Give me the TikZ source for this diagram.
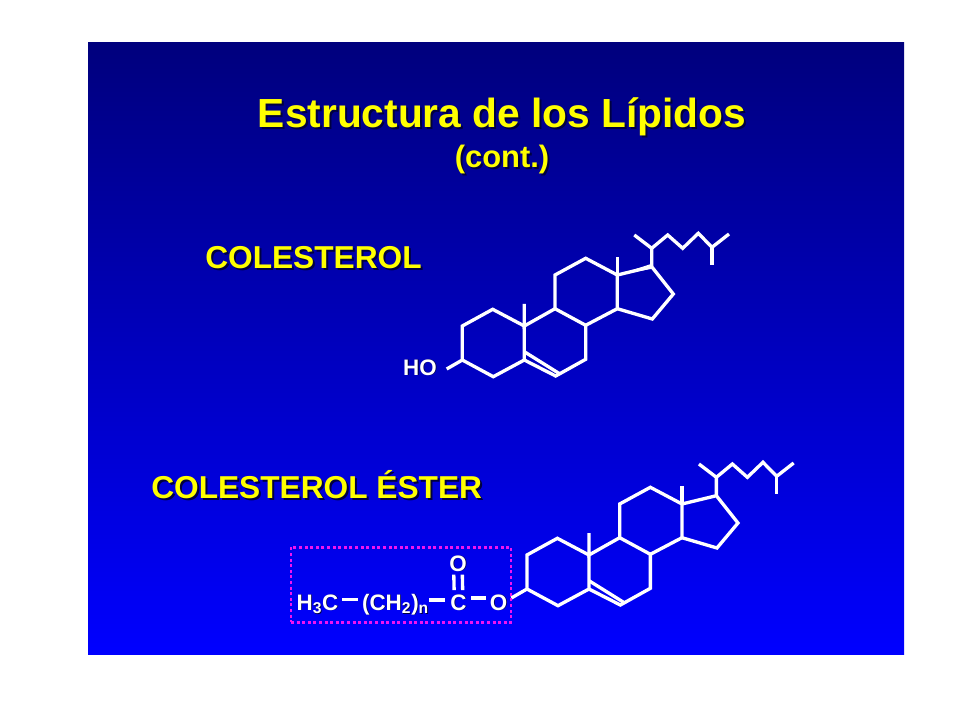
\documentclass[tikz,border=0pt]{standalone}
\usepackage{fontspec}
\setmainfont{Liberation Sans}
\definecolor{slidetop}{RGB}{0,0,125}
\definecolor{slidebottom}{RGB}{0,0,255}
\definecolor{titleyellow}{RGB}{255,255,0}
\definecolor{boxpink}{RGB}{240,20,240}
\newcommand{\shadowed}[2][1.5pt]{\leavevmode\rlap{\kern#1\raisebox{-#1}{\color{black!75!blue}#2}}#2}
\newcommand{\sterolbonds}{
	\coordinate (c1) at (492.7,309.3);
	\coordinate (c2) at (462.3,326);
	\coordinate (c3) at (462.3,360);
	\coordinate (c4) at (493.3,376.7);
	\coordinate (c5) at (524.3,360);
	\coordinate (c6) at (555.7,376);
	\coordinate (c7) at (585.7,359.3);
	\coordinate (c8) at (585.7,325.3);
	\coordinate (c9) at (555,308.7);
	\coordinate (c10) at (524.3,326);
	\coordinate (c11) at (555,275);
	\coordinate (c12) at (585.7,258.3);
	\coordinate (c13) at (617.3,275);
	\coordinate (c14) at (617.3,308.7);
	\coordinate (c15) at (652.3,319);
	\coordinate (c16) at (673.3,294);
	\coordinate (c17) at (651.7,266.7);
	\coordinate (c18) at (617.3,257.3);
	\coordinate (c19) at (524.3,304);
	\coordinate (c20) at (651.7,248.3);
	\coordinate (c21) at (634.3,235);
	\coordinate (c22) at (667.7,235);
	\coordinate (c23) at (682.7,248.3);
	\coordinate (c24) at (698.3,233.3);
	\coordinate (c25) at (712,247.3);
	\coordinate (c26) at (729,234);
	\coordinate (c27) at (712,265);
	\coordinate (oh) at (446.7,369);
	\coordinate (db1) at (524.3,351.7);
	\coordinate (db2) at (560,374);
	\draw[bond] (c3) -- (c2) -- (c1) -- (c10) -- (c5) -- (c4) -- (c3) -- (oh);
	\draw[bond] (c5) -- (c6) -- (c7) -- (c8) -- (c9) -- (c10) -- (c19);
	\draw[bond] (db1) -- (db2);
	\draw[bond] (c9) -- (c11) -- (c12) -- (c13) -- (c14) -- (c8);
	\draw[bond] (c13) -- (c18);
	\draw[bond] (c13) -- (c17) -- (c16) -- (c15) -- (c14);
	\draw[bond] (c17) -- (c20) -- (c21);
	\draw[bond] (c20) -- (c22) -- (c23) -- (c24) -- (c25) -- (c26);
	\draw[bond] (c25) -- (c27);
}
\tikzset{
	bond/.style={draw=white, line width=2.5pt, line join=miter, miter limit=2},
	titletext/.style={text=titleyellow, font=\bfseries\fontsize{30.5}{30}\selectfont, anchor=base, inner sep=0pt},
	subtext/.style={text=titleyellow, font=\bfseries\fontsize{23.2}{22}\selectfont, anchor=base, inner sep=0pt},
	headtext/.style={text=titleyellow, font=\bfseries\fontsize{23.75}{22}\selectfont, anchor=base west, inner sep=0pt},
	atom/.style={text=white, font=\bfseries\fontsize{16.8}{16}\selectfont, anchor=base, inner sep=0pt},
}
\begin{document}
\begin{tikzpicture}[x=0.75pt, y=-0.75pt]
	\useasboundingbox (0,0) rectangle (960,720);
	\shade[top color=slidetop, bottom color=slidebottom] (88,42.5) rectangle (904,654);

	\node[titletext] (title) at (502,127.5) {\shadowed{Estructura de los Lípidos}};
	\node[subtext] (cont) at (502,168) {\shadowed{(cont.)}};
	\node[headtext] (colest) at (205,269) {\shadowed{COLESTEROL}};
	\node[headtext] (ester) at (151,498) {\shadowed{COLESTEROL ÉSTER}};

	% colesterol
	\sterolbonds
	\fill[white] (c13) -- ([yshift=2.2pt]c17) -- ([yshift=-1.6pt]c17) -- cycle;
	\node[atom] (ho) at (420,375) {\shadowed[0.6pt]{HO}};

	% colesterol ester
	\begin{scope}[xshift=48.5pt, yshift=-171.75pt]
		\sterolbonds
	\end{scope}
	\node[draw=boxpink, line width=2.2pt, dash pattern=on 2.2pt off 2pt, minimum width=165pt, minimum height=56.25pt, inner sep=0pt] (esterbox) at (401,584.7) {};
	\node[atom] (h3c) at (317.5,610) {\shadowed[0.6pt]{H\textsubscript{3}C}};
	\node[atom] (ch2) at (395.5,610) {\shadowed[0.6pt]{(CH\textsubscript{2})\textsubscript{n}}};
	\node[atom] (carb) at (458.5,610) {\shadowed[0.6pt]{C}};
	\node[atom] (oxy) at (498.5,610) {\shadowed[0.6pt]{O}};
	\node[atom] (oxo) at (458,571) {\shadowed[0.6pt]{O}};
	\draw[bond] ([yshift=3.5pt]h3c.east) ++(2.8pt,0) -- ++(11.5pt,0);
	\draw[bond] ([yshift=3.5pt]ch2.east) ++(0pt,0) -- ++(11.5pt,0);
	\draw[bond] ([yshift=3.5pt]carb.east) ++(3.2pt,0) -- ++(11.5pt,0);
	\draw[bond, shorten >=3pt, shorten <=1.8pt] ([xshift=-3.2pt]oxo.south) -- ([xshift=-3.2pt]carb.north);
	\draw[bond, shorten >=3pt, shorten <=1.8pt] ([xshift=3.2pt]oxo.south) -- ([xshift=3.2pt]carb.north);
\end{tikzpicture}
\end{document}
